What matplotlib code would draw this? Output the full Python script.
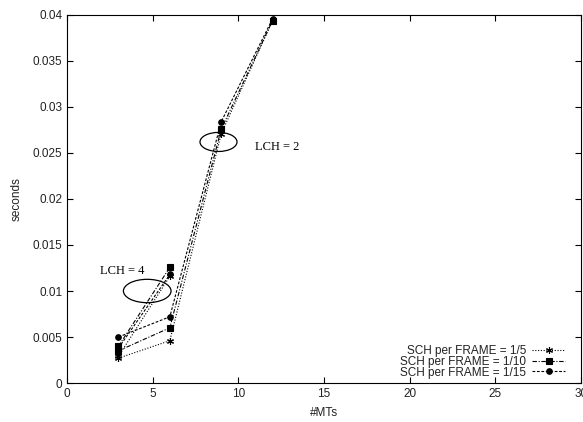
import matplotlib
matplotlib.use("Agg")
import matplotlib.pyplot as plt
from matplotlib.patches import Ellipse

# Data
mts_lch2 = [3, 6, 9, 12]
mts_lch4 = [3, 6]
labels = ["SCH per FRAME = 1/5", "SCH per FRAME = 1/10", "SCH per FRAME = 1/15"]
lch2_vals = [
    [0.0027, 0.0046, 0.0271, 0.0394],
    [0.0035, 0.0060, 0.0276, 0.0394],
    [0.0050, 0.0072, 0.0284, 0.0396],
]
lch4_vals = [
    [0.0029, 0.0116],
    [0.0040, 0.01257],
    [0.0038, 0.0118],
]
xticks = [0, 5, 10, 15, 20, 25, 30]
yticks = [0, 0.005, 0.01, 0.015, 0.02, 0.025, 0.03, 0.035, 0.04]
ytick_labels = ["0", "0.005", "0.01", "0.015", "0.02", "0.025", "0.03", "0.035", "0.04"]

plt.rcParams['font.family'] = ['Liberation Sans', 'DejaVu Sans']

fig = plt.figure(figsize=(5.83, 4.22), dpi=100)
ax = fig.add_axes([0.115, 0.0924, 0.8816, 0.8721])

styles = [
    dict(linestyle=(0, (1, 1.5)), marker=(6, 2, 0), markersize=5),
    dict(linestyle=(0, (4, 1.5, 1, 1.5)), marker='s', markersize=5),
    dict(linestyle=(0, (2.5, 1.5)), marker='o', markersize=4),
]

for i in range(3):
    st = styles[i]
    ax.plot(mts_lch2, lch2_vals[i], color='black', linewidth=0.8,
            linestyle=st['linestyle'], marker=st['marker'], markersize=st['markersize'],
            markeredgewidth=0.8, label=labels[i])
    ax.plot(mts_lch4, lch4_vals[i], color='black', linewidth=0.8,
            linestyle=st['linestyle'], marker=st['marker'], markersize=st['markersize'],
            markeredgewidth=0.8)

ax.add_patch(Ellipse((8.84, 0.0262), 2.16, 0.00207, fill=False, edgecolor='black', linewidth=0.9))
ax.add_patch(Ellipse((4.68, 0.0100), 2.78, 0.00254, fill=False, edgecolor='black', linewidth=0.9))
ax.text(10.97, 0.0257, "LCH = 2", family='Liberation Serif', fontsize=9, va='center', ha='left')
ax.text(1.93, 0.0122, "LCH = 4", family='Liberation Serif', fontsize=9, va='center', ha='left')

ax.set_xlim(0, 30)
ax.set_ylim(0, 0.04)
ax.set_xticks(xticks)
ax.set_xticklabels([str(t) for t in xticks])
ax.set_yticks(yticks)
ax.set_yticklabels(ytick_labels)
ax.tick_params(direction='in', top=True, right=True, labelsize=8.5, length=4, width=0.8,
               colors='black', labelcolor='#222222')
for s in ax.spines.values():
    s.set_linewidth(0.8)
ax.set_xlabel("#MTs", fontsize=8.5, labelpad=5, color='#222222')
ax.set_ylabel("seconds", fontsize=8.5, labelpad=7, color='#222222')

leg = ax.legend(loc='lower right', bbox_to_anchor=(0.969, 0.012), frameon=False,
                markerfirst=False, fontsize=8.5,
                handlelength=2.8, handletextpad=0.5, labelspacing=-0.12,
                borderaxespad=0.0, borderpad=0.0)
for t in leg.get_texts():
    t.set_color('#222222')

fig.savefig("out.png", dpi=100)
